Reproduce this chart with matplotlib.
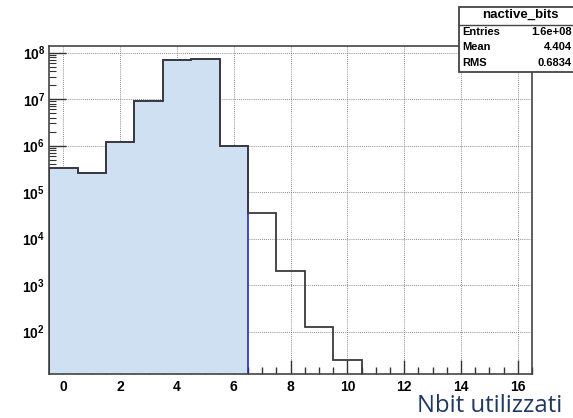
import numpy as np
import matplotlib
matplotlib.use("Agg")
import matplotlib.pyplot as plt
from matplotlib.patches import Rectangle

# dati (istogramma nactive_bits)
bin_centers = [0, 1, 2, 3, 4, 5, 6, 7, 8, 9, 10]
counts = [3.3e5, 2.6e5, 1.22e6, 9.0e6, 7.1e7, 7.4e7, 9.7e5, 3.5e4, 2.0e3, 1.28e2, 24]
n_filled = 7  # bin riempiti (fino a 6.5)

x_ticks = [0, 2, 4, 6, 8, 10, 12, 14, 16]
y_exps = [2, 3, 4, 5, 6, 7, 8]

stat_title = "nactive_bits"
stat_names = ["Entries", "Mean", "RMS"]
stat_values = ["1.6e+08", "4.404", "0.6834"]
x_title = "Nbit utilizzati"

plt.rcParams['font.family'] = ['Liberation Sans', 'DejaVu Sans']
plt.rcParams['mathtext.fontset'] = 'custom'
plt.rcParams['mathtext.rm'] = 'Liberation Sans:bold'
plt.rcParams['mathtext.bf'] = 'Liberation Sans:bold'

W, H = 573, 418
fig = plt.figure(figsize=(W / 100, H / 100), dpi=100)
ax = fig.add_axes([49.3 / W, 1 - 374 / H, (532 - 49.3) / W, (374 - 45.7) / H])

edges = np.array(bin_centers + [bin_centers[-1] + 1]) - 0.5
vals = np.array(counts)

# griglia tratteggiata
for xt in x_ticks:
    ax.axvline(xt, color='#666666', lw=0.6, ls=(0, (1, 1.5)), zorder=0)
for e in y_exps:
    ax.axhline(10.0 ** e, color='#666666', lw=0.6, ls=(0, (1, 1.5)), zorder=0)

# parte riempita
ax.stairs(vals[:n_filled], edges[:n_filled + 1], baseline=1, fill=True,
          facecolor='#cfe0f2', edgecolor='#2a2aa8', lw=1.2, zorder=2)
# contorno
ax.stairs(vals, edges, baseline=1, fill=False, color='#3a3a3a', lw=1.3, zorder=3)

ax.set_yscale('log')
ax.set_xlim(-0.5, 16.5)

ax.set_xticks(x_ticks)
ax.set_xticklabels([str(t) for t in x_ticks], fontsize=10, fontweight='bold')
ax.set_xticks(np.arange(-0.5, 16.6, 0.5), minor=True)
ax.set_yticks([10.0 ** e for e in y_exps])
ax.set_yticklabels([r'$\mathbf{10^{%d}}$' % e for e in y_exps], fontsize=10)
minors = [m * 10.0 ** e for e in range(1, 9) for m in range(2, 10)]
ax.set_yticks(minors, minor=True)
ax.set_yticklabels([], minor=True)
ax.set_ylim(12.3, 1.41e8)

ax.tick_params(which='both', direction='in', top=False, right=False, color='#333333')
ax.tick_params(which='major', axis='x', length=10, width=1, pad=4)
ax.tick_params(which='minor', axis='x', length=5, width=1)
ax.tick_params(which='major', axis='y', length=12, width=1, pad=3)
ax.tick_params(which='minor', axis='y', length=5, width=0.8)
for s in ax.spines.values():
    s.set_color('#444444')
    s.set_linewidth(1.2)

# riquadro statistiche
bx0, by0, bx1, by1 = 459, 7, 590, 72
fig.patches.append(Rectangle((bx0 / W, 1 - by1 / H), (bx1 - bx0) / W, (by1 - by0) / H,
                             transform=fig.transFigure, facecolor='white',
                             edgecolor='#444444', lw=1.3, zorder=5))
fig.lines.append(plt.Line2D([bx0 / W, 1], [1 - 25 / H, 1 - 25 / H],
                            transform=fig.transFigure, color='#444444', lw=1.0, zorder=6))
fig.text(520 / W, 1 - 15 / H, stat_title, ha='center', va='center',
         fontsize=9.5, fontweight='bold', zorder=7)
for i, (nm, vl) in enumerate(zip(stat_names, stat_values)):
    yy = 1 - (32 + i * 15.5) / H
    fig.text(462 / W, yy, nm, ha='left', va='center', fontsize=8, fontweight='bold', zorder=7)
    fig.text(572 / W, yy, vl, ha='right', va='center', fontsize=8, fontweight='bold', zorder=7)

fig.text(417 / W, 1 - 412 / H, x_title, ha='left', va='baseline',
         fontsize=17.2, color='#203864', family=['Open Sans', 'DejaVu Sans'])

fig.savefig("out.png", dpi=100)
